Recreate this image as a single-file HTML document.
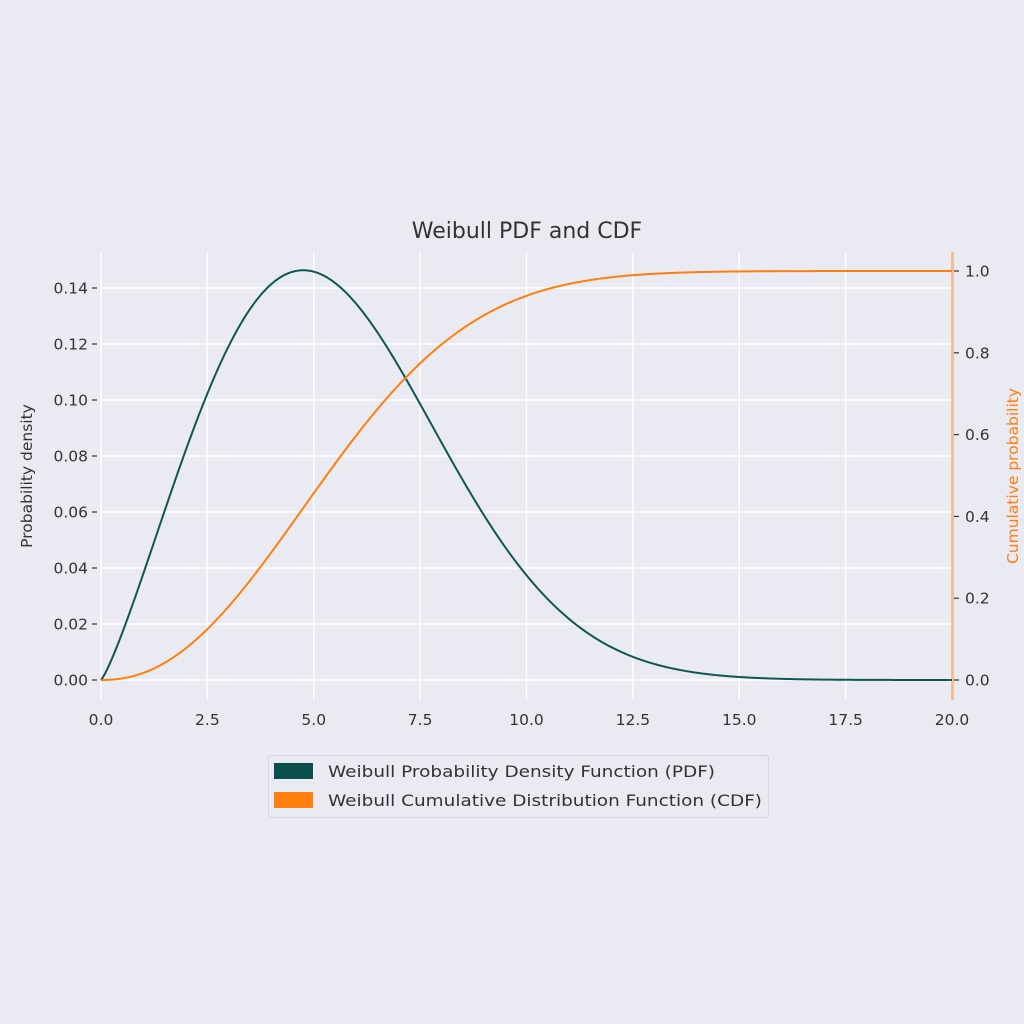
<!DOCTYPE html>
<html><head><meta charset="utf-8"><style>
html,body{margin:0;padding:0;background:#eaeaf2;}
svg{display:block;font-family:"DejaVu Sans","Liberation Sans",sans-serif;}
</style></head><body>
<svg id="s" width="1024" height="1024" viewBox="0 0 1024 1024">
<rect width="1024" height="1024" fill="#eaeaf2"/>
<g id="grid" stroke="#ffffff" stroke-width="1.4"></g>
<g id="ticks" fill="#333" font-size="15.5"></g>
<line x1="952.5" y1="252" x2="952.5" y2="700" stroke="#f5bd94" stroke-width="3"/>
<path id="pdf" fill="none" stroke="#105652" stroke-width="2"/>
<path id="cdf" fill="none" stroke="#ff7f0e" stroke-width="2"/>
<text x="527" y="238" text-anchor="middle" font-size="22" fill="#333">Weibull PDF and CDF</text>
<text transform="translate(32,476) rotate(-90)" text-anchor="middle" font-size="15.5" fill="#333">Probability density</text>
<text transform="translate(1018,476) rotate(-90)" text-anchor="middle" font-size="15.5" fill="#ff7f0e">Cumulative probability</text>
<rect x="268.5" y="755.5" width="500" height="62" fill="#eaeaf2" stroke="#d6d6dc" rx="3"/>
<rect x="274" y="763" width="39" height="16" fill="#0b4f4c"/>
<rect x="274" y="792" width="39" height="16" fill="#ff7f0e"/>
<text x="328" y="777" font-size="16" fill="#333" textLength="387" lengthAdjust="spacingAndGlyphs">Weibull Probability Density Function (PDF)</text>
<text x="328" y="806" font-size="16" fill="#333" textLength="434" lengthAdjust="spacingAndGlyphs">Weibull Cumulative Distribution Function (CDF)</text>
</svg>
<script>
var X=function(x){return 101+x*(851/20);};
var YL=function(y){return 680-y*2800;};
var YR=function(y){return 680-y*409;};
var g=document.getElementById('grid'),t=document.getElementById('ticks'),ns='http://www.w3.org/2000/svg';
function el(p,tag,a,txt){var e=document.createElementNS(ns,tag);for(var k in a)e.setAttribute(k,a[k]);if(txt!==undefined)e.textContent=txt;p.appendChild(e);}
for(var i=0;i<=8;i++){var x=X(i*2.5);el(g,'line',{x1:x,y1:252,x2:x,y2:700});el(t,'text',{x:x,y:725,'text-anchor':'middle'},(i*2.5).toFixed(1));}
for(var j=0;j<=7;j++){var v=j*0.02,y=YL(v);el(g,'line',{x1:101,y1:y,x2:952,y2:y});el(t,'text',{x:88,y:y+5.5,'text-anchor':'end'},v.toFixed(2));el(t,'line',{x1:92,y1:y,x2:97,y2:y,stroke:'#333','stroke-width':1.2});}
for(var j=0;j<=5;j++){var v=j*0.2,y=YR(v);el(t,'text',{x:965,y:y+5.5},v.toFixed(1));el(t,'line',{x1:954,y1:y,x2:959,y2:y,stroke:'#333','stroke-width':1.2});}
var k=2.2,l=6.26,p='',c='';
for(var n=0;n<=400;n++){var x=n*0.05,z=Math.pow(x/l,k),pd=(k/l)*Math.pow(x/l,k-1)*Math.exp(-z),cd=1-Math.exp(-z);
p+=(n?'L':'M')+X(x).toFixed(2)+','+YL(pd).toFixed(2);c+=(n?'L':'M')+X(x).toFixed(2)+','+YR(cd).toFixed(2);}
document.getElementById('pdf').setAttribute('d',p);document.getElementById('cdf').setAttribute('d',c);
</script>
</body></html>
